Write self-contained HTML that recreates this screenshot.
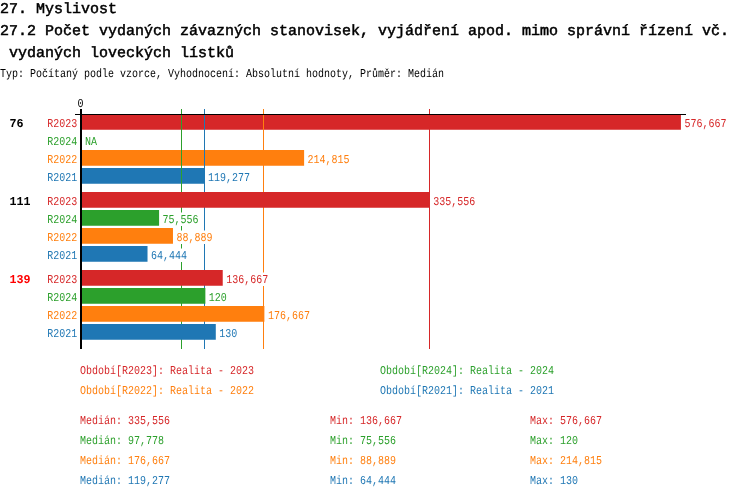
<!DOCTYPE html>
<html><head><meta charset="utf-8"><style>
html,body{margin:0;padding:0;background:#fff;width:750px;height:498px;overflow:hidden;position:relative}
</style></head><body>
<svg width="750" height="498" viewBox="0 0 750 498" style="position:absolute;left:0;top:0;will-change:transform" font-family="Liberation Mono" text-rendering="geometricPrecision">
<g font-size="15" fill="#000" stroke="#000" stroke-width="0.5">
<text x="0" y="13">27. Myslivost</text>
<text x="0" y="35">27.2 Počet vydaných závazných stanovisek, vyjádření apod. mimo správní řízení vč.</text>
<text x="0" y="57" xml:space="preserve"> vydaných loveckých lístků</text>
</g>
<text transform="translate(0.00,77.00) scale(0.8333,1)" font-size="12.0" fill="#000" xml:space="preserve">Typ: Počítaný podle vzorce, Vyhodnocení: Absolutní hodnoty, Průměr: Medián</text>
<text transform="translate(80.50,107.00) scale(0.8333,1)" font-size="12.0" fill="#000" text-anchor="middle" xml:space="preserve">0</text>
<rect x="80.41" y="114" width="600.51" height="15.75" fill="#d62728"/>
<rect x="681.92" y="116.5" width="46" height="13.5" fill="#fff"/>
<text transform="translate(77.20,127.00) scale(0.8333,1)" font-size="12.0" fill="#d62728" text-anchor="end" xml:space="preserve">R2023</text>
<text transform="translate(684.42,127.00) scale(0.8333,1)" font-size="12.0" fill="#d62728" xml:space="preserve">576,667</text>
<rect x="82.41" y="134.5" width="16" height="13.5" fill="#fff"/>
<text transform="translate(77.20,145.00) scale(0.8333,1)" font-size="12.0" fill="#2ca02c" text-anchor="end" xml:space="preserve">R2024</text>
<text transform="translate(84.91,145.00) scale(0.8333,1)" font-size="12.0" fill="#2ca02c" xml:space="preserve">NA</text>
<rect x="80.41" y="150" width="223.70" height="15.75" fill="#ff7f0e"/>
<rect x="305.11" y="152.5" width="46" height="13.5" fill="#fff"/>
<text transform="translate(77.20,163.00) scale(0.8333,1)" font-size="12.0" fill="#ff7f0e" text-anchor="end" xml:space="preserve">R2022</text>
<text transform="translate(307.61,163.00) scale(0.8333,1)" font-size="12.0" fill="#ff7f0e" xml:space="preserve">214,815</text>
<rect x="80.41" y="168" width="124.21" height="15.75" fill="#1f77b4"/>
<rect x="205.62" y="170.5" width="46" height="13.5" fill="#fff"/>
<text transform="translate(77.20,181.00) scale(0.8333,1)" font-size="12.0" fill="#1f77b4" text-anchor="end" xml:space="preserve">R2021</text>
<text transform="translate(208.12,181.00) scale(0.8333,1)" font-size="12.0" fill="#1f77b4" xml:space="preserve">119,277</text>
<text transform="translate(9.40,127.00) scale(0.9722,1)" font-size="12.0" fill="#000" font-weight="bold" xml:space="preserve">76</text>
<rect x="181" y="109" width="1" height="240" fill="#2ca02c"/>
<rect x="204" y="109" width="1" height="240" fill="#1f77b4"/>
<rect x="263" y="109" width="1" height="240" fill="#ff7f0e"/>
<rect x="429" y="109" width="1" height="240" fill="#d62728"/>
<rect x="80.41" y="192" width="349.43" height="15.75" fill="#d62728"/>
<rect x="430.84" y="194.5" width="46" height="13.5" fill="#fff"/>
<text transform="translate(77.20,205.00) scale(0.8333,1)" font-size="12.0" fill="#d62728" text-anchor="end" xml:space="preserve">R2023</text>
<text transform="translate(433.34,205.00) scale(0.8333,1)" font-size="12.0" fill="#d62728" xml:space="preserve">335,556</text>
<rect x="80.41" y="210" width="78.68" height="15.75" fill="#2ca02c"/>
<rect x="160.09" y="212.5" width="40" height="13.5" fill="#fff"/>
<text transform="translate(77.20,223.00) scale(0.8333,1)" font-size="12.0" fill="#2ca02c" text-anchor="end" xml:space="preserve">R2024</text>
<text transform="translate(162.59,223.00) scale(0.8333,1)" font-size="12.0" fill="#2ca02c" xml:space="preserve">75,556</text>
<rect x="80.41" y="228" width="92.56" height="15.75" fill="#ff7f0e"/>
<rect x="173.97" y="230.5" width="40" height="13.5" fill="#fff"/>
<text transform="translate(77.20,241.00) scale(0.8333,1)" font-size="12.0" fill="#ff7f0e" text-anchor="end" xml:space="preserve">R2022</text>
<text transform="translate(176.47,241.00) scale(0.8333,1)" font-size="12.0" fill="#ff7f0e" xml:space="preserve">88,889</text>
<rect x="80.41" y="246" width="67.11" height="15.75" fill="#1f77b4"/>
<rect x="148.52" y="248.5" width="40" height="13.5" fill="#fff"/>
<text transform="translate(77.20,259.00) scale(0.8333,1)" font-size="12.0" fill="#1f77b4" text-anchor="end" xml:space="preserve">R2021</text>
<text transform="translate(151.02,259.00) scale(0.8333,1)" font-size="12.0" fill="#1f77b4" xml:space="preserve">64,444</text>
<text transform="translate(9.40,205.00) scale(0.9722,1)" font-size="12.0" fill="#000" font-weight="bold" xml:space="preserve">111</text>
<rect x="80.41" y="270" width="142.32" height="15.75" fill="#d62728"/>
<rect x="223.73" y="272.5" width="46" height="13.5" fill="#fff"/>
<text transform="translate(77.20,283.00) scale(0.8333,1)" font-size="12.0" fill="#d62728" text-anchor="end" xml:space="preserve">R2023</text>
<text transform="translate(226.23,283.00) scale(0.8333,1)" font-size="12.0" fill="#d62728" xml:space="preserve">136,667</text>
<rect x="80.41" y="288" width="124.96" height="15.75" fill="#2ca02c"/>
<rect x="206.37" y="290.5" width="22" height="13.5" fill="#fff"/>
<text transform="translate(77.20,301.00) scale(0.8333,1)" font-size="12.0" fill="#2ca02c" text-anchor="end" xml:space="preserve">R2024</text>
<text transform="translate(208.87,301.00) scale(0.8333,1)" font-size="12.0" fill="#2ca02c" xml:space="preserve">120</text>
<rect x="80.41" y="306" width="183.97" height="15.75" fill="#ff7f0e"/>
<rect x="265.38" y="308.5" width="46" height="13.5" fill="#fff"/>
<text transform="translate(77.20,319.00) scale(0.8333,1)" font-size="12.0" fill="#ff7f0e" text-anchor="end" xml:space="preserve">R2022</text>
<text transform="translate(267.88,319.00) scale(0.8333,1)" font-size="12.0" fill="#ff7f0e" xml:space="preserve">176,667</text>
<rect x="80.41" y="324" width="135.38" height="15.75" fill="#1f77b4"/>
<rect x="216.79" y="326.5" width="22" height="13.5" fill="#fff"/>
<text transform="translate(77.20,337.00) scale(0.8333,1)" font-size="12.0" fill="#1f77b4" text-anchor="end" xml:space="preserve">R2021</text>
<text transform="translate(219.29,337.00) scale(0.8333,1)" font-size="12.0" fill="#1f77b4" xml:space="preserve">130</text>
<text transform="translate(9.40,283.00) scale(0.9722,1)" font-size="12.0" fill="#ff0000" font-weight="bold" xml:space="preserve">139</text>
<rect x="75" y="114" width="611" height="1" fill="#000"/>
<rect x="80" y="109" width="2" height="240" fill="#000"/>
<text transform="translate(80.00,374.00) scale(0.8333,1)" font-size="12.0" fill="#d62728" xml:space="preserve">Období[R2023]: Realita - 2023</text>
<text transform="translate(380.00,374.00) scale(0.8333,1)" font-size="12.0" fill="#2ca02c" xml:space="preserve">Období[R2024]: Realita - 2024</text>
<text transform="translate(80.00,394.00) scale(0.8333,1)" font-size="12.0" fill="#ff7f0e" xml:space="preserve">Období[R2022]: Realita - 2022</text>
<text transform="translate(380.00,394.00) scale(0.8333,1)" font-size="12.0" fill="#1f77b4" xml:space="preserve">Období[R2021]: Realita - 2021</text>
<text transform="translate(80.00,424.00) scale(0.8333,1)" font-size="12.0" fill="#d62728" xml:space="preserve">Medián: 335,556</text>
<text transform="translate(330.00,424.00) scale(0.8333,1)" font-size="12.0" fill="#d62728" xml:space="preserve">Min: 136,667</text>
<text transform="translate(530.00,424.00) scale(0.8333,1)" font-size="12.0" fill="#d62728" xml:space="preserve">Max: 576,667</text>
<text transform="translate(80.00,444.00) scale(0.8333,1)" font-size="12.0" fill="#2ca02c" xml:space="preserve">Medián: 97,778</text>
<text transform="translate(330.00,444.00) scale(0.8333,1)" font-size="12.0" fill="#2ca02c" xml:space="preserve">Min: 75,556</text>
<text transform="translate(530.00,444.00) scale(0.8333,1)" font-size="12.0" fill="#2ca02c" xml:space="preserve">Max: 120</text>
<text transform="translate(80.00,464.00) scale(0.8333,1)" font-size="12.0" fill="#ff7f0e" xml:space="preserve">Medián: 176,667</text>
<text transform="translate(330.00,464.00) scale(0.8333,1)" font-size="12.0" fill="#ff7f0e" xml:space="preserve">Min: 88,889</text>
<text transform="translate(530.00,464.00) scale(0.8333,1)" font-size="12.0" fill="#ff7f0e" xml:space="preserve">Max: 214,815</text>
<text transform="translate(80.00,484.00) scale(0.8333,1)" font-size="12.0" fill="#1f77b4" xml:space="preserve">Medián: 119,277</text>
<text transform="translate(330.00,484.00) scale(0.8333,1)" font-size="12.0" fill="#1f77b4" xml:space="preserve">Min: 64,444</text>
<text transform="translate(530.00,484.00) scale(0.8333,1)" font-size="12.0" fill="#1f77b4" xml:space="preserve">Max: 130</text>
</svg>
</body></html>
